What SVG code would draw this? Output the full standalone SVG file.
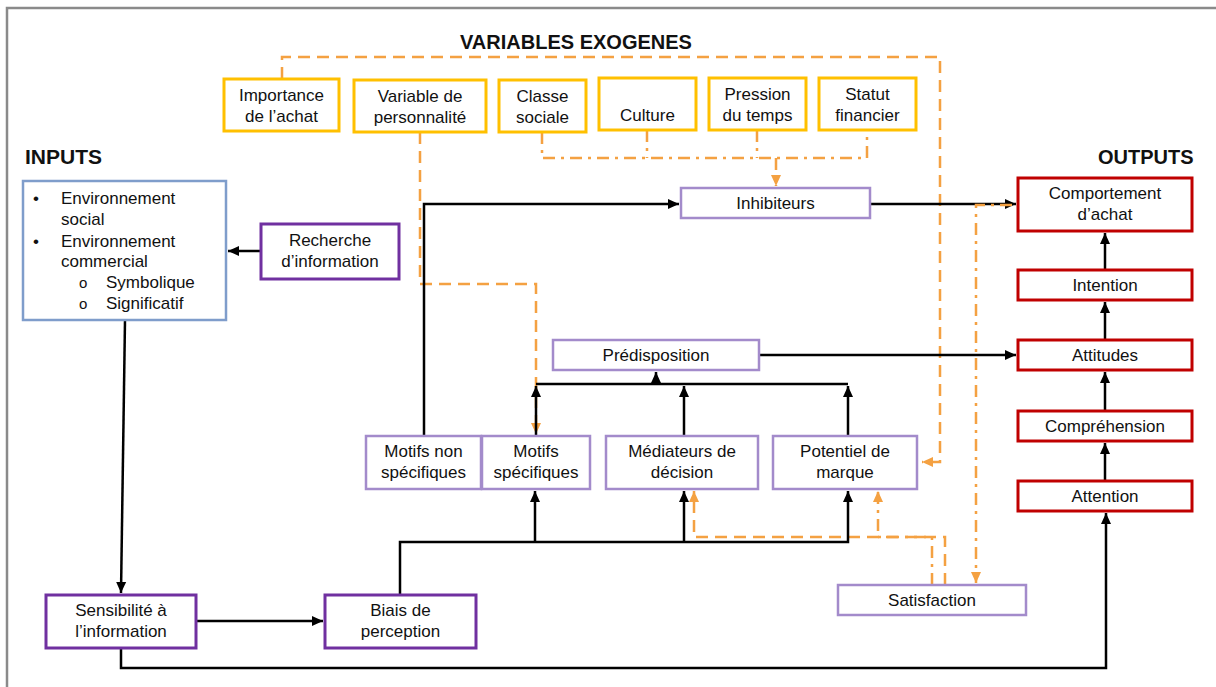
<svg xmlns="http://www.w3.org/2000/svg" width="1216" height="687" viewBox="0 0 1216 687">
<style>
text{font-family:"Liberation Sans",Arial,sans-serif;font-size:17px;fill:#111;text-anchor:middle}
.t{font-weight:bold;font-size:20px;text-anchor:start}
.l{text-anchor:start}
.y{fill:#fff;stroke:#FFC000;stroke-width:3}
.lp{fill:#fff;stroke:#A38BCB;stroke-width:2.5}
.dp{fill:#fff;stroke:#7030A0;stroke-width:3}
.r{fill:#fff;stroke:#C00000;stroke-width:3}
.b{fill:#fff;stroke:#7F9DCB;stroke-width:2.5}
.k{fill:none;stroke:#000;stroke-width:2.5}
.od{fill:none;stroke:#F4A142;stroke-width:2.5;stroke-dasharray:12 7}
.oc{fill:none;stroke:#F4A142;stroke-width:2.5;stroke-dasharray:12 6 3 6}
</style>
<defs>
<marker id="ak" markerUnits="userSpaceOnUse" markerWidth="12" markerHeight="12" viewBox="0 0 12 12" refX="11" refY="6" orient="auto"><path d="M0,1 L11,6 L0,11 Z" fill="#000"/></marker>
<marker id="ao" markerUnits="userSpaceOnUse" markerWidth="12" markerHeight="12" viewBox="0 0 12 12" refX="11" refY="6" orient="auto"><path d="M0,1 L11,6 L0,11 Z" fill="#F4A142"/></marker>
</defs>
<rect x="0" y="0" width="1216" height="687" fill="#fff"/>
<path d="M7,687 V8 H1216" fill="none" stroke="#8a8a8a" stroke-width="2.5"/>
<text class="t" x="460" y="49">VARIABLES EXOGENES</text>
<text class="t" x="25" y="164" style="font-size:21px">INPUTS</text>
<text class="t" x="1098" y="164">OUTPUTS</text>

<g id="connectors">
<path class="od" d="M282,79 V57 H940 V462 H922" marker-end="url(#ao)"/>
<path class="od" d="M420,132 V284 H536 V434" marker-end="url(#ao)"/>
<path class="od" d="M945,585 V537 H694 V491" marker-end="url(#ao)"/>
<path class="oc" d="M542,132 V158 H867 V130"/>
<path class="oc" d="M647,130 V158"/>
<path class="oc" d="M757,130 V158"/>
<path class="oc" d="M776,158 V186" marker-end="url(#ao)"/>
<path class="oc" d="M932,585 V537 H878 V491" marker-end="url(#ao)"/>
<path class="k" d="M261,251 H228" marker-end="url(#ak)"/>
<path class="k" d="M125,320 L121,593" marker-end="url(#ak)"/>
<path class="k" d="M196,621 H323" marker-end="url(#ak)"/>
<path class="k" d="M121,648 V668 H1106 V513" marker-end="url(#ak)"/>
<path class="k" d="M400,595 V542 H848 V491" marker-end="url(#ak)"/>
<path class="k" d="M535,542 V491" marker-end="url(#ak)"/>
<path class="k" d="M684,542 V491" marker-end="url(#ak)"/>
<path class="k" d="M424,436 V204 H679" marker-end="url(#ak)"/>
<path class="k" d="M870,204 H1016" marker-end="url(#ak)"/>
<path class="k" d="M536,384 H848"/>
<path class="k" d="M536,436 V386" marker-end="url(#ak)"/>
<path class="k" d="M684,436 V386" marker-end="url(#ak)"/>
<path class="k" d="M848,436 V386" marker-end="url(#ak)"/>
<path class="k" d="M656,384 V372" marker-end="url(#ak)"/>
<path class="k" d="M759,355 H1016" marker-end="url(#ak)"/>
<path class="k" d="M1105,481 V443" marker-end="url(#ak)"/>
<path class="k" d="M1105,411 V372" marker-end="url(#ak)"/>
<path class="k" d="M1105,340 V302" marker-end="url(#ak)"/>
<path class="k" d="M1105,270 V233" marker-end="url(#ak)"/>
<path class="oc" d="M1012,205 H976 V583" marker-end="url(#ao)"/>
</g>

<g id="importance"><rect class="y" x="224" y="79" width="115" height="52"/><text x="281.5" y="101">Importance</text><text x="281.5" y="122">de l’achat</text></g>
<g id="personnalite"><rect class="y" x="354" y="80" width="132" height="52"/><text x="420" y="102">Variable de</text><text x="420" y="123">personnalité</text></g>
<g id="classe"><rect class="y" x="499" y="80" width="87" height="52"/><text x="542.5" y="102">Classe</text><text x="542.5" y="123">sociale</text></g>
<g id="culture"><rect class="y" x="599" y="78" width="97" height="52"/><text x="647.5" y="121">Culture</text></g>
<g id="pression"><rect class="y" x="709" y="78" width="97" height="52"/><text x="757.5" y="100">Pression</text><text x="757.5" y="121">du temps</text></g>
<g id="statut"><rect class="y" x="819" y="78" width="97" height="52"/><text x="867.5" y="100">Statut</text><text x="867.5" y="121">financier</text></g>

<g id="environnement"><rect class="b" x="23" y="181" width="203" height="139"/>
<text class="l" x="33" y="204">•</text><text class="l" x="61" y="204">Environnement</text>
<text class="l" x="61" y="225">social</text>
<text class="l" x="33" y="247">•</text><text class="l" x="61" y="247">Environnement</text>
<text class="l" x="61" y="267">commercial</text>
<text class="l" x="79" y="288" style="font-size:15px">o</text><text class="l" x="106" y="288">Symbolique</text>
<text class="l" x="79" y="309" style="font-size:15px">o</text><text class="l" x="106" y="309">Significatif</text>
</g>
<g id="recherche"><rect class="dp" x="261" y="224" width="138" height="55"/><text x="330" y="246">Recherche</text><text x="330" y="267">d’information</text></g>
<g id="sensibilite"><rect class="dp" x="46" y="595" width="150" height="53"/><text x="121" y="616">Sensibilité à</text><text x="121" y="637">l’information</text></g>
<g id="biais"><rect class="dp" x="325" y="595" width="151" height="53"/><text x="400.5" y="616">Biais de</text><text x="400.5" y="637">perception</text></g>

<g id="inhibiteurs"><rect class="lp" x="681" y="188" width="189" height="30"/><text x="775.5" y="209">Inhibiteurs</text></g>
<g id="motifs-non"><rect class="lp" x="366" y="436" width="115" height="53"/><text x="423.5" y="457">Motifs non</text><text x="423.5" y="478">spécifiques</text></g>
<g id="motifs-spec"><rect class="lp" x="482" y="436" width="108" height="53"/><text x="536" y="457">Motifs</text><text x="536" y="478">spécifiques</text></g>
<g id="mediateurs"><rect class="lp" x="606" y="436" width="152" height="53"/><text x="682" y="457">Médiateurs de</text><text x="682" y="478">décision</text></g>
<g id="potentiel"><rect class="lp" x="773" y="436" width="144" height="53"/><text x="845" y="457">Potentiel de</text><text x="845" y="478">marque</text></g>
<g id="predisposition"><rect class="lp" x="553" y="340" width="206" height="30"/><text x="656" y="361">Prédisposition</text></g>
<g id="satisfaction"><rect class="lp" x="838" y="585" width="188" height="30"/><text x="932" y="606">Satisfaction</text></g>

<g id="comportement"><rect class="r" x="1018" y="178" width="174" height="53"/><text x="1105" y="199">Comportement</text><text x="1105" y="220">d’achat</text></g>
<g id="intention"><rect class="r" x="1018" y="270" width="174" height="30"/><text x="1105" y="291">Intention</text></g>
<g id="attitudes"><rect class="r" x="1018" y="340" width="174" height="30"/><text x="1105" y="361">Attitudes</text></g>
<g id="comprehension"><rect class="r" x="1018" y="411" width="174" height="30"/><text x="1105" y="432">Compréhension</text></g>
<g id="attention"><rect class="r" x="1018" y="481" width="174" height="30"/><text x="1105" y="502">Attention</text></g>
</svg>
